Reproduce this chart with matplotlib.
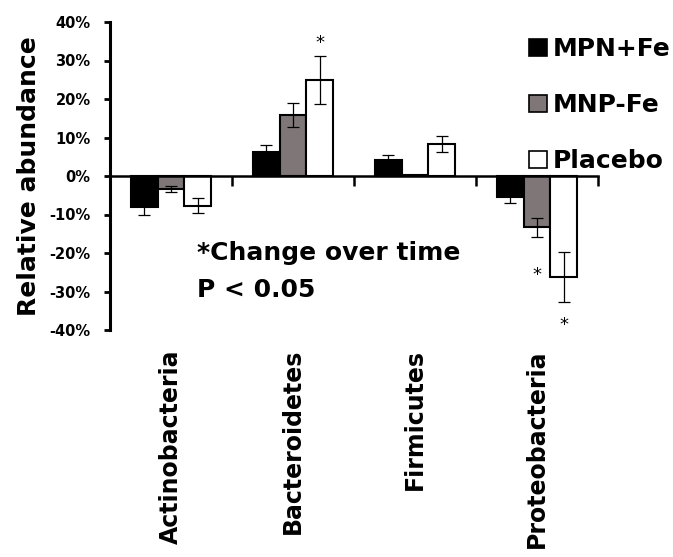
import numpy as np
import matplotlib
matplotlib.use('Agg')
import matplotlib.pyplot as plt
import matplotlib.patches as mpatches
import matplotlib.transforms as mtransforms

# Data (percent change in relative abundance)
phyla = ['Actinobacteria', 'Bacteroidetes', 'Firmicutes', 'Proteobacteria']
groups = ['MPN+Fe', 'MNP-Fe', 'Placebo']
mpn_fe = [-8.0, 6.3, 4.2, -5.5]
mpn_fe_err = [2.0, 1.7, 1.2, 1.5]
mnp_fe = [-3.4, 15.9, 0.3, -13.3]
mnp_fe_err = [0.7, 3.1, 0.0, 2.5]
placebo = [-7.7, 25.0, 8.3, -26.2]
placebo_err = [1.9, 6.2, 2.1, 6.4]

# significance stars: (phylum index, group index, y position in %)
stars = [(1, 2, 34.5), (3, 1, -25.8), (3, 2, -38.8)]

colors = ['black', '#7f7777', 'white']
font = 'DejaVu Sans'

fig = plt.figure(figsize=(6.73, 5.57), dpi=100)
ax = fig.add_axes([110 / 673, 1 - 330 / 557, 488 / 673, 308 / 557])

x = np.arange(len(phyla)) + 0.5
width = 0.221
series = [(mpn_fe, mpn_fe_err), (mnp_fe, mnp_fe_err), (placebo, placebo_err)]
for k, (vals, errs) in enumerate(series):
    pos = x + (k - 1) * width
    ax.bar(pos, vals, width, color=colors[k], edgecolor='black', linewidth=1.5,
           label=groups[k], zorder=2)
    ax.errorbar(pos, vals, yerr=errs, fmt='none', ecolor='black',
                elinewidth=0.9, capsize=4, capthick=0.9, zorder=3)

for pi, gi, yv in stars:
    ax.text(x[pi] + (gi - 1) * width, yv, '*', ha='center', va='center',
            fontsize=13, family=font)

# axes styling
ax.set_xlim(0, 4)
ax.set_ylim(-40, 40)
ax.spines['top'].set_visible(False)
ax.spines['right'].set_visible(False)
ax.spines['bottom'].set_position(('data', 0))
ax.spines['bottom'].set_linewidth(1.8)
ax.spines['left'].set_linewidth(2.2)
ax.set_xticks([1, 2, 3, 4])
ax.set_xticklabels([])
ax.tick_params(axis='x', direction='out', length=7, width=1.8)
ax.set_yticks(np.arange(-40, 41, 10))
ax.set_yticklabels([f'{v}%' for v in range(-40, 41, 10)],
                   fontsize=10.5, fontweight='bold', family=font)
ax.tick_params(axis='y', direction='out', length=4, width=2, pad=10)
ax.set_ylabel('Relative abundance', fontsize=18, fontweight='bold',
              family=font, labelpad=6)

# category labels below the plot
trans = mtransforms.blended_transform_factory(ax.transData, ax.transAxes)
for xi, name in zip(x, phyla):
    ax.text(xi, -0.062, name, transform=trans, rotation=90, ha='center',
            va='top', fontsize=17, fontweight='bold', family=font)

# annotation
ax.text(0.713, -20, '*Change over time', ha='left', va='center',
        fontsize=18, fontweight='bold', family=font)
ax.text(0.713, -29.6, 'P < 0.05', ha='left', va='center',
        fontsize=18, fontweight='bold', family=font)

# legend
handles = [mpatches.Patch(facecolor=c, edgecolor='black', linewidth=1.2, label=g)
           for c, g in zip(colors, groups)]
fig.legend(handles=handles, loc='upper left',
           bbox_to_anchor=(529 / 673, 1 - 37 / 557), frameon=False,
           borderpad=0, borderaxespad=0, handlelength=0.7, handleheight=0.7,
           handletextpad=0.25, labelspacing=1.28,
           prop={'family': font, 'weight': 'bold', 'size': 18})

fig.savefig('out.png', dpi=100)
